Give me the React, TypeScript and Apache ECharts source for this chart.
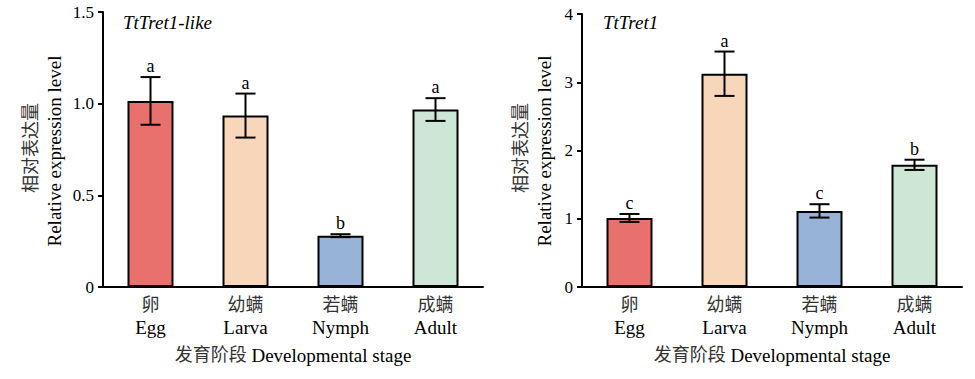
import React, { useEffect, useRef } from "react";
import * as echarts from "echarts";

const stagesCn = ["卵", "幼螨", "若螨", "成螨"];
const stagesEn = ["Egg", "Larva", "Nymph", "Adult"];
const colors = ["#E8716D", "#F8D6BA", "#97B3D7", "#CEE6D5"];

const likeMeans = [1.015, 0.935, 0.28, 0.968];
const likeErrs = [0.13, 0.12, 0.008, 0.062];
const likeLetters = ["a", "a", "b", "a"];

const tretMeans = [1.012, 3.125, 1.115, 1.79];
const tretErrs = [0.058, 0.325, 0.098, 0.075];
const tretLetters = ["c", "a", "c", "b"];

const FONT = "'Liberation Serif', 'Noto Sans CJK SC', serif";

export default function App() {
  const ref = useRef<HTMLDivElement>(null);
  useEffect(() => {
    document.body.style.margin = "0";
    const chart = echarts.init(ref.current!, null, { renderer: "svg" });

    const grids = [
      { left: 103, top: 12, width: 380, height: 275 },
      { left: 582, top: 14, width: 380, height: 273 },
    ];

    const xAxis = [0, 1].map((i) => ({
      type: "category",
      gridIndex: i,
      data: stagesCn.map((c, k) => `{cn|${c}}\n{en|${stagesEn[k]}}`),
      axisLine: { lineStyle: { color: "#000", width: 2 } },
      axisTick: { show: false },
      axisLabel: {
        margin: 6,
        fontFamily: FONT,
        rich: {
          cn: { fontSize: 18, fontFamily: FONT, color: "#333", lineHeight: 23 },
          en: { fontSize: 19, fontFamily: FONT, color: "#000", lineHeight: 23 },
        },
      },
    }));

    const yAxis = [
      { max: 1.5, interval: 0.5, fmt: (v: number) => (v === 0 ? "0" : v.toFixed(1)) },
      { max: 4, interval: 1, fmt: (v: number) => String(v) },
    ].map((c, i) => ({
      type: "value",
      gridIndex: i,
      min: 0,
      max: c.max,
      interval: c.interval,
      splitLine: { show: false },
      axisLine: { show: true, lineStyle: { color: "#000", width: 2 } },
      axisTick: { show: true, length: 5, lineStyle: { color: "#000", width: 2 } },
      axisLabel: {
        margin: 9,
        fontSize: 17,
        fontFamily: FONT,
        color: "#000",
        formatter: c.fmt,
      },
    }));

    const barSeries = (means: number[], i: number) => ({
      type: "bar",
      xAxisIndex: i,
      yAxisIndex: i,
      barWidth: 46,
      data: means.map((v, k) => ({
        value: v,
        itemStyle: { color: colors[k], borderColor: "#000", borderWidth: 2 },
      })),
    });

    const errSeries = (means: number[], errs: number[], letters: string[], i: number) => ({
      type: "custom",
      xAxisIndex: i,
      yAxisIndex: i,
      z: 10,
      data: means.map((m, k) => [k, m, errs[k]]),
      renderItem: (params: any, api: any) => {
        const k = api.value(0);
        const m = api.value(1);
        const e = api.value(2);
        const letter = letters[params.dataIndex];
        const top = api.coord([k, m + e]);
        const bot = api.coord([k, m - e]);
        const hw = 10;
        const ls = { stroke: "#000", lineWidth: 2 };
        return {
          type: "group",
          children: [
            { type: "line", shape: { x1: top[0], y1: top[1], x2: bot[0], y2: bot[1] }, style: ls },
            { type: "line", shape: { x1: top[0] - hw, y1: top[1], x2: top[0] + hw, y2: top[1] }, style: ls },
            { type: "line", shape: { x1: bot[0] - hw, y1: bot[1], x2: bot[0] + hw, y2: bot[1] }, style: ls },
            {
              type: "text",
              x: top[0],
              y: top[1] - 2,
              style: {
                text: letter,
                fontSize: 18,
                fontFamily: FONT,
                fill: "#000",
                align: "center",
                verticalAlign: "bottom",
              },
            },
          ],
        };
      },
    });

    const yTitle = (cx: number, ex: number) => [
      {
        type: "text",
        x: cx,
        y: 148,
        rotation: Math.PI / 2,
        style: {
          text: "相对表达量",
          fontSize: 18,
          fontFamily: FONT,
          fill: "#333",
          align: "center",
          verticalAlign: "middle",
        },
      },
      {
        type: "text",
        x: ex,
        y: 151,
        rotation: Math.PI / 2,
        style: {
          text: "Relative expression level",
          fontSize: 19,
          fontFamily: FONT,
          fill: "#000",
          align: "center",
          verticalAlign: "middle",
        },
      },
    ];

    const xTitle = (cx: number) => ({
      type: "text",
      x: cx,
      y: 355,
      style: {
        text: "{cn|发育阶段} {en|Developmental stage}",
        fontSize: 19,
        fontFamily: FONT,
        align: "center",
        verticalAlign: "middle",
        rich: {
          cn: { fontSize: 18, fontFamily: FONT, fill: "#333" },
          en: { fontSize: 19, fontFamily: FONT, fill: "#000" },
        },
      },
    });

    const gene = (x: number, t: string) => ({
      type: "text",
      x,
      y: 22,
      style: {
        text: t,
        fontSize: 19,
        fontStyle: "italic",
        fontFamily: FONT,
        fill: "#000",
        align: "left",
        verticalAlign: "middle",
      },
    });

    chart.setOption({
      animation: false,
      backgroundColor: "#fff",
      grid: grids,
      xAxis,
      yAxis,
      series: [
        barSeries(likeMeans, 0),
        errSeries(likeMeans, likeErrs, likeLetters, 0),
        barSeries(tretMeans, 1),
        errSeries(tretMeans, tretErrs, tretLetters, 1),
      ],
      graphic: [
        ...yTitle(31, 54),
        ...yTitle(521, 544),
        xTitle(293),
        xTitle(772),
        gene(123, "TtTret1-like"),
        gene(603, "TtTret1"),
      ],
    });
    return () => chart.dispose();
  }, []);
  return <div ref={ref} style={{ width: 975, height: 379, position: "fixed", left: 0, top: 0 }} />;
}
